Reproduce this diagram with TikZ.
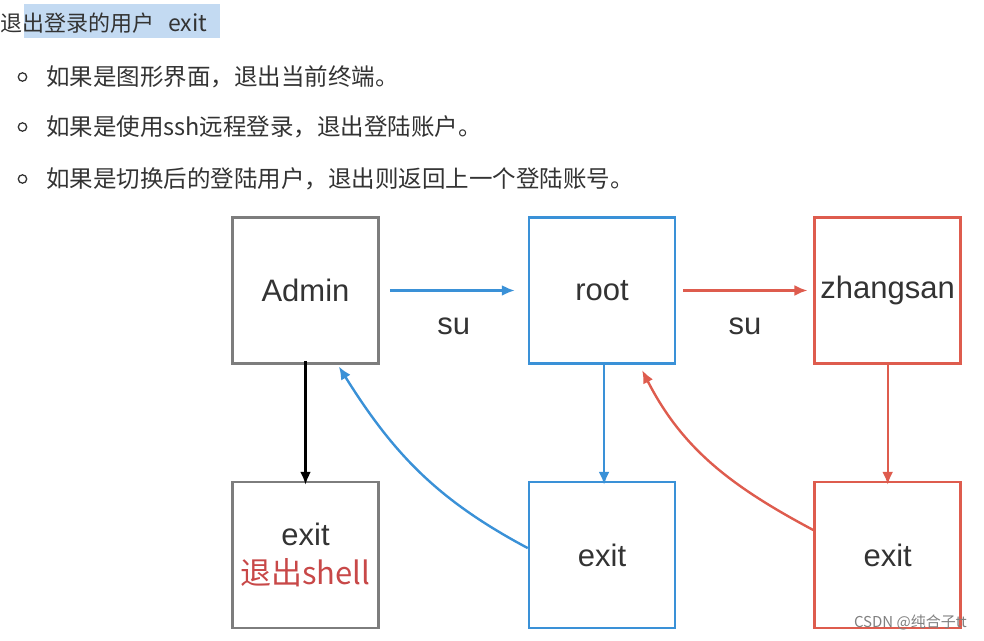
\documentclass[tikz,border=0pt]{standalone}
\usepackage{fontspec}
\setmainfont{Noto Sans CJK SC}
\newfontfamily\labfont{Liberation Sans}
\usetikzlibrary{arrows.meta,positioning}
\definecolor{textgray}{RGB}{51,51,51}
\definecolor{boxgray}{RGB}{125,125,125}
\definecolor{userblue}{RGB}{58,145,215}
\definecolor{userred}{RGB}{222,92,78}
\definecolor{notered}{RGB}{200,72,72}
\definecolor{marked}{RGB}{195,218,242}

\begin{document}
\begin{tikzpicture}[x=1pt,y=1pt,
    user/.style={draw,line width=2.6pt,minimum size=146pt,inner sep=0pt,text=textgray,font=\labfont\fontsize{31}{41}\selectfont},
    link/.style={line width=2.4pt,-{Latex[length=13pt,width=11pt]}},
    lab/.style={inner sep=0pt,text=textgray,font=\labfont\fontsize{31}{38}\selectfont},
    item/.style={anchor=west,inner sep=0pt,text=textgray,font=\fontsize{23.5}{28}\selectfont}]
    \useasboundingbox (0,0) rectangle (984,640);
    % heading and list
    \fill[marked] (24,636) rectangle (220,602);
    \node[item,font=\fontsize{22}{26}\selectfont] (title) at (0,617) {退出登录的用户\hspace{14pt}{\fontsize{23}{26}\selectfont exit}};
    \foreach \row/\txt in {563/{如果是图形界面，退出当前终端。},
                           513/{如果是使用ssh远程登录，退出登陆账户。},
                           461/{如果是切换后的登陆用户，退出则返回上一个登陆账号。}} {
        \draw[textgray,line width=1.3pt] (22.5,\row) circle [radius=4.2pt];
        \node[item] at (46,\row) {\txt};
    }
    % users
    \node[user,draw=boxgray] (admin) at (305.5,349.5) {Admin};
    \node[user,draw=userblue,right=148pt of admin] (root) {root};
    \node[user,draw=userred,right=137pt of root] (zhangsan) {zhangsan};
    \node[user,draw=boxgray,below=116pt of admin,align=center] (shellexit) {exit\\[-2pt]{\color{notered}\fontspec{Noto Sans CJK SC}退出shell}};
    \node[user,draw=userblue,below=116pt of root] (rootexit) {exit};
    \node[user,draw=userred,below=116pt of zhangsan] (zhangexit) {exit};
    % su
    \draw[link,userblue,shorten <=10pt,shorten >=13pt] (admin) -- node[lab,below=26pt] {su} (root);
    \draw[link,userred,shorten <=7pt,shorten >=6pt] (root) -- node[lab,below=26pt] {su} (zhangsan);
    % exit
    \draw[link,black,shorten <=-4pt,shorten >=-4pt] (admin) -- (shellexit);
    \draw[link,userblue,shorten >=-4pt] ([xshift=2pt]root.south) -- ([xshift=2pt]rootexit.north);
    \draw[link,userred,shorten >=-4pt] (zhangsan) -- (zhangexit);
    \draw[link,userblue,shorten >=2pt] ([yshift=7pt]rootexit.west) to[out=152,in=-58] ([xshift=-42pt]admin.south east);
    \draw[link,userred,shorten >=6pt] ([yshift=25pt]zhangexit.west) to[out=152,in=-63] ([xshift=-37pt]root.south east);
    \node[inner sep=0pt,anchor=east,text=gray,font=\fontsize{15}{18}\selectfont] (mark) at (967,18) {CSDN @纯合子tt};
\end{tikzpicture}
\end{document}
